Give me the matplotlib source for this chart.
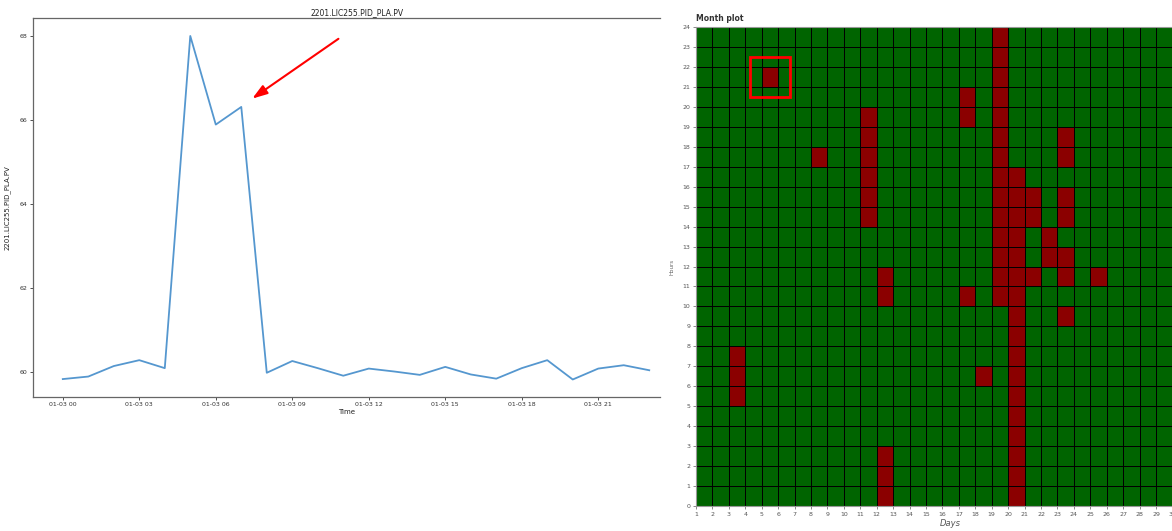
import matplotlib

matplotlib.use("Agg")

import matplotlib.dates as mdates
import matplotlib.pyplot as plt
import numpy as np
import pandas as pd
from matplotlib.colors import ListedColormap
from matplotlib.patches import Rectangle

# left panel: one day of hourly readings
TAG = "2201.LIC255.PID_PLA.PV"
START = "2023-01-03 00:00"
PV_VALUES = [59.84, 59.90, 60.15, 60.29, 60.10, 68.01, 65.90, 66.32,
             59.99, 60.27, 60.10, 59.92, 60.09, 60.02, 59.94, 60.13,
             59.95, 59.85, 60.10, 60.29, 59.83, 60.09, 60.17, 60.05]

# right panel: (day, first hour, last hour) of alarm blocks
ALARM_BLOCKS = [
    (3, 5, 7), (5, 21, 21), (8, 17, 17), (11, 14, 19),
    (12, 0, 2), (12, 10, 11), (17, 19, 20), (17, 10, 10),
    (18, 6, 6), (19, 10, 23), (20, 0, 16), (21, 14, 15),
    (21, 11, 11), (22, 12, 13), (23, 17, 18), (23, 14, 15),
    (23, 11, 12), (23, 9, 9), (25, 11, 11),
]
DAYS = np.arange(1, 33)
DAY_TICKS = np.arange(1, 31)
HOURS = np.arange(0, 25)
HIGHLIGHT_DAY = 5
HIGHLIGHT_HOUR = 21

fig = plt.figure(figsize=(11.72, 5.31), dpi=100)

# ---- line chart
ax = fig.add_axes([0.0279, 0.2529, 0.5352, 0.7126])
times = pd.date_range(START, periods=len(PV_VALUES), freq="h")
ax.plot(times, PV_VALUES, color="#5597cf", lw=1.3)

t0 = times[0]
hour = pd.Timedelta(hours=1)
ax.set_xlim(t0 - 1.18 * hour, t0 + 23.42 * hour)
ax.set_ylim(59.42, 68.43)
ax.set_yticks([60, 62, 64, 66, 68])
ax.xaxis.set_major_locator(mdates.HourLocator(byhour=range(0, 24, 3)))
ax.xaxis.set_major_formatter(mdates.DateFormatter("%m-%d %H"))
ax.tick_params(labelsize=4.5, length=2, width=0.6, colors="#333333", pad=2)
ax.spines["right"].set_visible(False)
for side in ("left", "top", "bottom"):
    ax.spines[side].set_color("#666666")
    ax.spines[side].set_linewidth(0.9)
ax.set_title(TAG, fontsize=5.5, x=0.517, pad=2, color="#222222")
ax.set_xlabel("Time", fontsize=5, labelpad=1.5, color="#222222")
ax.set_ylabel(TAG, fontsize=5, labelpad=6, color="#222222")

ax.annotate("", xy=(t0 + 7.34 * hour, 66.48), xytext=(t0 + 10.9 * hour, 67.98),
            arrowprops=dict(arrowstyle="-|>,head_length=0.9,head_width=0.3",
                            color="red", lw=1.5))

# ---- month heatmap
grid = np.zeros((len(HOURS) - 1, len(DAYS) - 1))
for day, h0, h1 in ALARM_BLOCKS:
    grid[h0:h1 + 1, day - 1] = 1

hx = fig.add_axes([0.5939, 0.0471, 0.4345, 0.902])
hx.pcolormesh(DAYS, HOURS, grid, cmap=ListedColormap(["#006400", "#8b0000"]),
              edgecolors="black", linewidth=0.55, vmin=0, vmax=1)
hx.set_xlim(DAYS[0], DAYS[-1])
hx.set_ylim(HOURS[0], HOURS[-1])
hx.set_xticks(DAY_TICKS)
hx.set_yticks(HOURS)
hx.tick_params(labelsize=4.5, length=2, width=0.6, colors="#777777",
               labelcolor="#555555", pad=2)
for spine in hx.spines.values():
    spine.set_color("#999999")
    spine.set_linewidth(0.8)
hx.add_patch(Rectangle((HIGHLIGHT_DAY - 0.7, HIGHLIGHT_HOUR - 0.5), 2.4, 2.0,
                       fill=False, edgecolor="red", lw=2))
hx.set_title("Month plot", loc="left", fontsize=5.5, fontweight="bold",
             color="#333333", pad=4)
hx.set_xlabel("Days", fontsize=6, style="italic", color="#555555", labelpad=2)
hx.set_ylabel("Hours", fontsize=4, color="#666666", labelpad=6)

fig.savefig("out.png", dpi=100)
